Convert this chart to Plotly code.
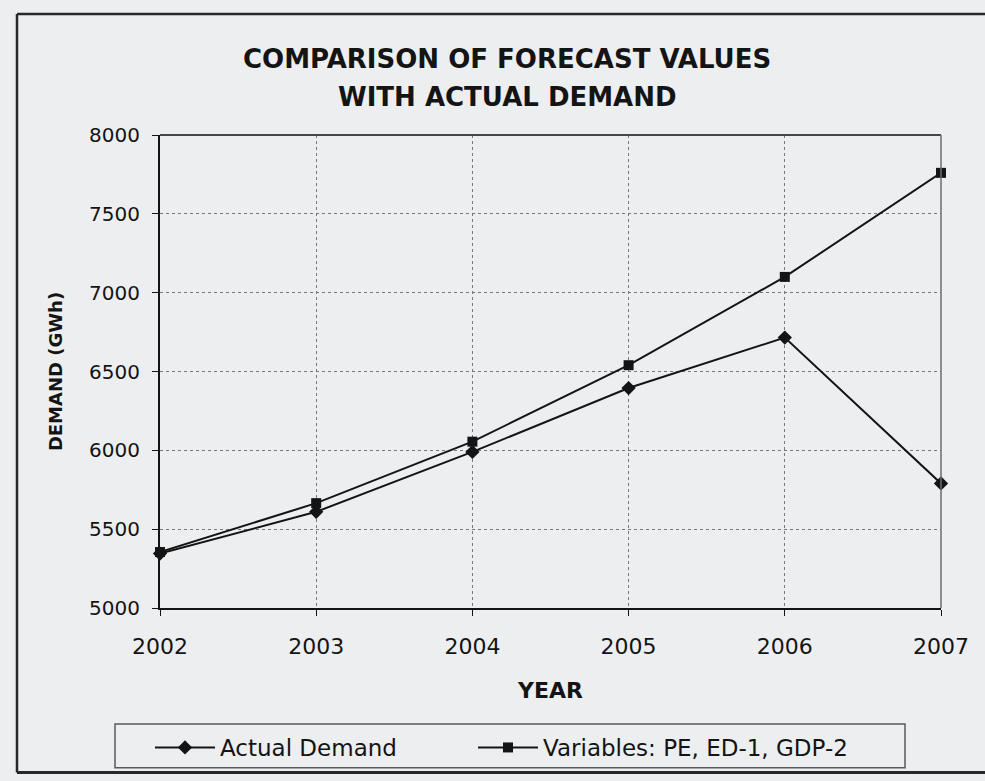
import plotly.graph_objects as go

# Annual electricity demand, actual vs. forecast (GWh)
years = [2002, 2003, 2004, 2005, 2006, 2007]
actual_demand = [5345, 5610, 5990, 6395, 6715, 5790]
forecast_pe_ed_gdp = [5355, 5665, 6055, 6540, 7100, 7760]
y_ticks = [5000, 5500, 6000, 6500, 7000, 7500, 8000]

W, H = 985, 781
L, R, T, B = 160, 941, 135, 612  # plot area in pixels

def px(x):
    return (x - L) / (R - L)

def py(y):
    return (B - y) / (B - T)

FONT = "DejaVu Sans"
BG = "rgb(237,238,240)"
INK = "rgb(20,20,20)"

fig = go.Figure()
fig.add_trace(go.Scatter(
    x=years, y=actual_demand, name="Actual Demand", mode="lines+markers",
    line=dict(color=INK, width=2), cliponaxis=False, legend="legend",
    marker=dict(symbol="diamond", size=11, color=INK),
))
fig.add_trace(go.Scatter(
    x=years, y=forecast_pe_ed_gdp, name="Variables: PE, ED-1, GDP-2",
    mode="lines+markers", cliponaxis=False, legend="legend2",
    line=dict(color=INK, width=2),
    marker=dict(symbol="square", size=10, color=INK),
))

legend_style = dict(
    orientation="h", xanchor="left", yanchor="top",
    bgcolor="rgba(0,0,0,0)", borderwidth=0,
    font=dict(size=23, family=FONT, color=INK), itemwidth=60,
)

fig.update_layout(
    width=W, height=H,
    margin=dict(l=L, r=W - R, t=T, b=H - B, pad=0),
    paper_bgcolor=BG, plot_bgcolor=BG,
    font=dict(family=FONT, color=INK),
    showlegend=True,
    legend=dict(x=px(150), y=py(731), **legend_style),
    legend2=dict(x=px(473), y=py(731), **legend_style),
    xaxis=dict(
        range=[2002, 2007], tickvals=years, ticktext=[str(y) for y in years],
        tickfont=dict(size=22, family=FONT, color=INK),
        ticks="outside", ticklen=6, tickcolor=INK, ticklabelstandoff=12,
        showline=True, linecolor=INK, linewidth=2,
        showgrid=True, gridcolor="rgb(120,120,120)", griddash="dot", gridwidth=1,
        zeroline=False,
        title=dict(text="<b>YEAR</b>", font=dict(size=22, family=FONT, color=INK), standoff=24),
    ),
    yaxis=dict(
        range=[5000, 8000], tickvals=y_ticks,
        tickfont=dict(size=20, family=FONT, color=INK),
        ticks="outside", ticklen=6, tickcolor=INK, ticklabelstandoff=8,
        showline=True, linecolor=INK, linewidth=2,
        showgrid=True, gridcolor="rgb(120,120,120)", griddash="dot", gridwidth=1,
        zeroline=False,
        title=dict(text="<b>DEMAND (GWh)</b>", font=dict(size=18, family=FONT, color=INK), standoff=22),
    ),
)

# Title in two lines
for text, ycen in [("COMPARISON OF FORECAST VALUES", 58), ("WITH ACTUAL DEMAND", 97)]:
    fig.add_annotation(
        text=f"<b>{text}</b>", xref="paper", yref="paper",
        x=px(507), y=py(ycen), xanchor="center", yanchor="middle",
        showarrow=False, font=dict(size=26, family=FONT, color=INK),
    )

shapes = [
    # top and right edges of the plot frame
    dict(type="line", xref="paper", yref="paper", x0=0, x1=1, y0=1, y1=1,
         line=dict(color="rgb(70,70,70)", width=2)),
    dict(type="line", xref="paper", yref="paper", x0=1, x1=1, y0=0, y1=1,
         line=dict(color="rgb(110,110,110)", width=1.5)),
    # legend box
    dict(type="rect", xref="paper", yref="paper",
         x0=px(115), x1=px(905), y0=py(773), y1=py(729),
         line=dict(color="rgb(90,90,90)", width=1.5), fillcolor="rgba(0,0,0,0)"),
    # outer chart frame
    dict(type="line", xref="paper", yref="paper", x0=px(17), x1=px(985), y0=py(13), y1=py(13),
         line=dict(color="rgb(40,40,40)", width=2.5)),
    dict(type="line", xref="paper", yref="paper", x0=px(17), x1=px(17), y0=py(13), y1=py(778),
         line=dict(color="rgb(40,40,40)", width=2.5)),
    dict(type="line", xref="paper", yref="paper", x0=px(17), x1=px(985), y0=py(778), y1=py(778),
         line=dict(color="rgb(40,40,40)", width=3)),
]
fig.update_layout(shapes=shapes)

fig.write_html("out.html")
